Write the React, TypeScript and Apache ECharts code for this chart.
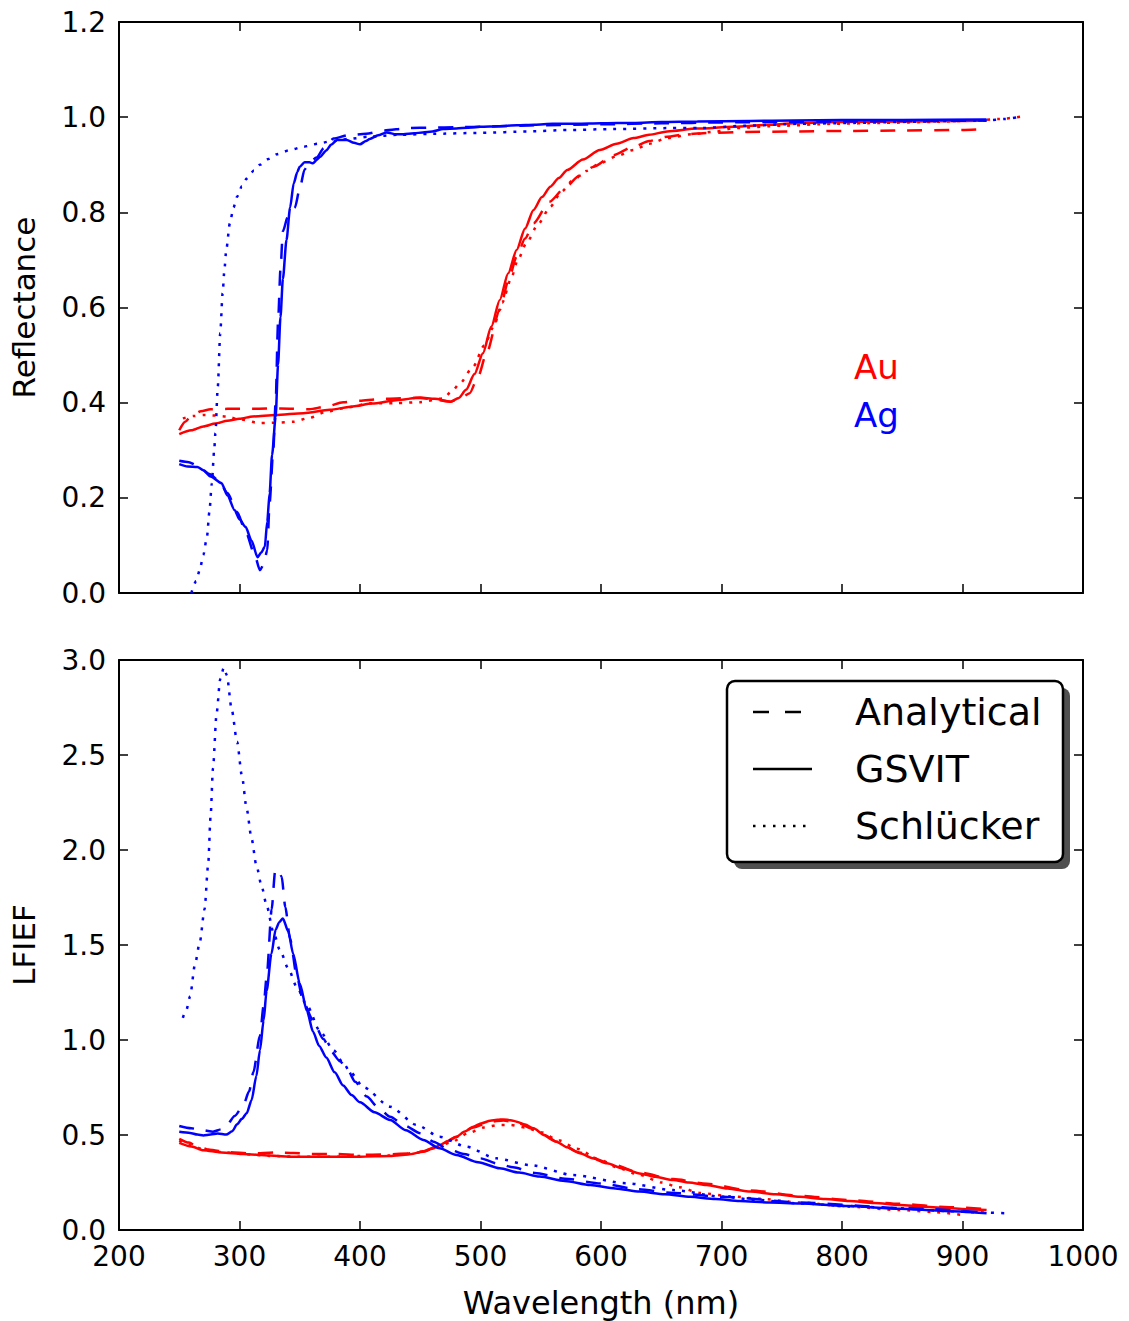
import React, { useEffect, useRef } from "react";
import * as echarts from "echarts";

// ---------- Axis settings ----------
const X_MIN = 200;
const X_MAX = 1000;
const X_INTERVAL = 100;
const R_MIN = 0;
const R_MAX = 1.2;
const R_INTERVAL = 0.2;
const L_MIN = 0;
const L_MAX = 3.0;
const L_INTERVAL = 0.5;

const LEGEND_LABELS = ["Analytical", "GSVIT", "Schlücker"];
const METAL_LABELS = ["Au", "Ag"];

// ---------- Top panel: Reflectance ----------
const auAnalyticalR: number[][] = [
  [250, 0.342], [255, 0.36], [260, 0.372], [268, 0.382], [276, 0.386], [290, 0.387], [311, 0.387],
  [334, 0.388], [358, 0.386], [372, 0.392], [386, 0.401], [400, 0.404], [414, 0.407], [430, 0.409],
  [450, 0.41], [465, 0.405], [475, 0.402], [484, 0.41], [491, 0.42], [498, 0.455], [505, 0.504],
  [516, 0.595], [523, 0.655], [530, 0.707], [537, 0.745], [544, 0.777], [557, 0.822], [571, 0.854],
  [582, 0.877], [594, 0.896], [610, 0.92], [627, 0.938], [640, 0.95], [655, 0.959], [670, 0.964],
  [690, 0.967], [720, 0.969], [760, 0.97], [800, 0.971], [850, 0.972], [900, 0.973], [920, 0.975],
];
const auGsvitR: number[][] = [
  [250, 0.334], [260, 0.342], [270, 0.35], [280, 0.356], [290, 0.362], [300, 0.366], [311, 0.371],
  [330, 0.374], [353, 0.378], [375, 0.385], [394, 0.392], [410, 0.398], [430, 0.405], [450, 0.411],
  [462, 0.408], [475, 0.402], [482, 0.41], [488, 0.427], [495, 0.46], [502, 0.504], [509, 0.56],
  [516, 0.616], [523, 0.672], [530, 0.721], [537, 0.766], [544, 0.805], [551, 0.832], [558, 0.854],
  [565, 0.872], [572, 0.889], [585, 0.911], [599, 0.931], [613, 0.944], [627, 0.956], [640, 0.963],
  [655, 0.97], [680, 0.976], [710, 0.98], [740, 0.984], [765, 0.988], [800, 0.99], [850, 0.991],
  [900, 0.992], [920, 0.993],
];
const auSchluckerR: number[][] = [
  [253, 0.367], [262, 0.372], [270, 0.374], [280, 0.373], [289, 0.371], [300, 0.365], [317, 0.357],
  [330, 0.358], [345, 0.36], [358, 0.368], [372, 0.381], [390, 0.39], [408, 0.399], [430, 0.399],
  [450, 0.401], [469, 0.409], [476, 0.423], [483, 0.441], [494, 0.476], [503, 0.52], [511, 0.56],
  [518, 0.61], [525, 0.658], [531, 0.7], [538, 0.735], [548, 0.776], [558, 0.812], [567, 0.843],
  [577, 0.868], [588, 0.887], [599, 0.903], [613, 0.918], [627, 0.931], [640, 0.944], [655, 0.956],
  [675, 0.964], [696, 0.97], [710, 0.977], [750, 0.982], [792, 0.986], [835, 0.988], [875, 0.99],
  [910, 0.993], [930, 0.996], [948, 1.001],
];
const agAnalyticalR: number[][] = [
  [250, 0.278], [258, 0.275], [265, 0.268], [275, 0.25], [283, 0.236], [290, 0.21], [298, 0.17],
  [305, 0.13], [312, 0.085], [317, 0.048], [320, 0.06], [323, 0.09], [325, 0.19], [328, 0.3],
  [330, 0.4], [332, 0.57], [334, 0.68], [336, 0.76], [340, 0.79], [346, 0.81], [350, 0.85],
  [354, 0.89], [358, 0.905], [364, 0.915], [370, 0.935], [378, 0.955], [390, 0.962], [405, 0.965],
  [420, 0.972], [440, 0.977], [460, 0.978], [480, 0.979], [500, 0.98], [550, 0.983], [600, 0.985],
  [650, 0.987], [700, 0.989], [750, 0.99], [800, 0.991], [850, 0.992], [920, 0.993],
];
const agGsvitR: number[][] = [
  [250, 0.271], [257, 0.266], [265, 0.265], [270, 0.258], [276, 0.245], [285, 0.231], [290, 0.205],
  [296, 0.174], [300, 0.155], [305, 0.139], [310, 0.11], [315, 0.075], [318, 0.085], [321, 0.097],
  [323, 0.15], [325, 0.21], [327, 0.29], [330, 0.37], [332, 0.48], [334, 0.58], [336, 0.66],
  [339, 0.742], [342, 0.81], [345, 0.861], [348, 0.885], [350, 0.896], [354, 0.905], [358, 0.905],
  [361, 0.903], [364, 0.91], [367, 0.917], [372, 0.93], [376, 0.942], [381, 0.952], [389, 0.952],
  [395, 0.946], [400, 0.943], [405, 0.95], [408, 0.954], [415, 0.962], [422, 0.968], [430, 0.964],
  [436, 0.964], [445, 0.966], [452, 0.968], [460, 0.97], [469, 0.975], [480, 0.976], [490, 0.978],
  [500, 0.98], [515, 0.981], [530, 0.983], [545, 0.984], [560, 0.986], [580, 0.986], [600, 0.987],
  [627, 0.988], [650, 0.99], [680, 0.991], [724, 0.992], [760, 0.993], [800, 0.994], [850, 0.994],
  [920, 0.995],
];
const agSchluckerR: number[][] = [
  [260, 0.0], [264, 0.025], [267, 0.048], [270, 0.08], [273, 0.118], [275, 0.17], [277, 0.23],
  [279, 0.3], [280, 0.336], [282, 0.434], [284, 0.546], [286, 0.63], [287.5, 0.68], [289, 0.721],
  [292, 0.777], [295, 0.81], [298, 0.833], [302, 0.855], [306, 0.871], [312, 0.888], [317, 0.9],
  [324, 0.912], [331, 0.922], [342, 0.931], [353, 0.938], [365, 0.944], [375, 0.949], [390, 0.954],
  [408, 0.959], [433, 0.963], [460, 0.965], [500, 0.967], [540, 0.97], [572, 0.973], [610, 0.975],
  [655, 0.977], [682, 0.977], [720, 0.982], [765, 0.986], [810, 0.988], [848, 0.99], [890, 0.992],
  [920, 0.993], [935, 0.996], [948, 1.001],
];

// ---------- Bottom panel: LFIEF ----------
const auAnalyticalL: number[][] = [
  [250, 0.48], [258, 0.46], [265, 0.44], [275, 0.422], [290, 0.41], [310, 0.403], [330, 0.408],
  [345, 0.405], [360, 0.4], [380, 0.4], [400, 0.395], [420, 0.398], [440, 0.402], [452, 0.414],
  [466, 0.445], [480, 0.49], [494, 0.54], [508, 0.57], [519, 0.576], [530, 0.565], [544, 0.532],
  [563, 0.465], [582, 0.408], [605, 0.356], [632, 0.302], [660, 0.268], [688, 0.243], [724, 0.208],
  [765, 0.18], [806, 0.158], [848, 0.138], [889, 0.12], [920, 0.11],
];
const auGsvitL: number[][] = [
  [250, 0.459], [260, 0.44], [270, 0.42], [285, 0.408], [303, 0.4], [325, 0.392], [345, 0.385],
  [370, 0.385], [400, 0.386], [425, 0.389], [440, 0.397], [452.5, 0.412], [460, 0.427],
  [466.4, 0.447], [473, 0.468], [480, 0.491], [487, 0.518], [494, 0.544], [501, 0.562], [508, 0.575],
  [514, 0.58], [519, 0.582], [525, 0.578], [530, 0.57], [537, 0.555], [544, 0.535], [553, 0.5],
  [563, 0.465], [572, 0.435], [582.5, 0.404], [593, 0.378], [605, 0.351], [618, 0.324], [632, 0.298],
  [645, 0.28], [660, 0.263], [673, 0.25], [687.5, 0.237], [705, 0.219], [724, 0.202], [745, 0.188],
  [765, 0.175], [786, 0.163], [806, 0.153], [827, 0.142], [848, 0.132], [869, 0.123], [889, 0.114],
  [905, 0.109], [920, 0.105],
];
const auSchluckerL: number[][] = [
  [250, 0.47], [260, 0.445], [270, 0.425], [285, 0.41], [303, 0.4], [325, 0.39], [350, 0.385],
  [375, 0.385], [400, 0.39], [425, 0.392], [445, 0.405], [460, 0.425], [475, 0.46], [490, 0.51],
  [503, 0.54], [515, 0.553], [525, 0.553], [537, 0.54], [550, 0.515], [565, 0.472], [580, 0.428],
  [599, 0.37], [615, 0.325], [632, 0.29], [650, 0.25], [665, 0.225], [682, 0.195], [707, 0.178],
  [730, 0.165], [765, 0.145], [805, 0.123], [848, 0.105], [875, 0.095], [899, 0.08],
];
const agAnalyticalL: number[][] = [
  [250, 0.547], [260, 0.535], [270, 0.525], [278, 0.517], [285, 0.53], [289, 0.547], [296, 0.6],
  [303, 0.654], [308, 0.73], [311.5, 0.83], [317, 1.025], [320, 1.18], [322.6, 1.337], [326.7, 1.688],
  [329.5, 1.884], [332, 1.9], [335, 1.86], [338, 1.7], [342, 1.532], [347.5, 1.337], [353, 1.2],
  [361, 1.103], [369.6, 1.005], [376, 0.94], [383.4, 0.888], [390, 0.84], [396, 0.78], [405.6, 0.702],
  [415, 0.645], [425, 0.596], [437, 0.55], [450, 0.509], [461, 0.465], [472, 0.43], [486, 0.4],
  [500, 0.377], [514, 0.35], [527, 0.33], [545, 0.3], [570, 0.27], [600, 0.245], [630, 0.215],
  [660, 0.195], [700, 0.175], [765, 0.145], [848, 0.116], [920, 0.092],
];
const agGsvitL: number[][] = [
  [250, 0.517], [259, 0.511], [265, 0.502], [270, 0.498], [276, 0.503], [282, 0.508], [289, 0.502],
  [294, 0.52], [298, 0.556], [302, 0.585], [306, 0.615], [310, 0.683], [314, 0.81], [317, 0.947],
  [320, 1.103], [322.5, 1.259], [326.5, 1.454], [330, 1.581], [333, 1.62], [336, 1.64], [340.5, 1.571],
  [344.5, 1.454], [350, 1.298], [356, 1.152], [361, 1.044], [366, 0.97], [372, 0.908], [379, 0.83],
  [386, 0.761], [393, 0.71], [400, 0.672], [412, 0.62], [425, 0.579], [438, 0.525], [452.5, 0.474],
  [466, 0.43], [480, 0.395], [498, 0.357], [516, 0.325], [532, 0.302], [549, 0.281], [570, 0.258],
  [591, 0.237], [612, 0.219], [632, 0.202], [653, 0.188], [674, 0.175], [695, 0.163], [715, 0.153],
  [740, 0.145], [765, 0.14], [805, 0.126], [848, 0.112], [885, 0.1], [920, 0.088],
];
const agSchluckerL: number[][] = [
  [253, 1.117], [256, 1.16], [259, 1.23], [263, 1.396], [267, 1.513], [271, 1.688], [274, 1.923],
  [276, 2.176], [278, 2.43], [281, 2.72], [284, 2.9], [287, 2.96], [289.5, 2.92], [293.5, 2.74],
  [298, 2.57], [302, 2.39], [306, 2.215], [310, 2.06], [314, 1.92], [318.5, 1.806], [322.5, 1.708],
  [328, 1.571], [333.5, 1.474], [340.5, 1.376], [347.5, 1.279], [356, 1.181], [367, 1.044],
  [378, 0.947], [386, 0.88], [392, 0.83], [403, 0.751], [425, 0.649], [447, 0.553], [466, 0.491],
  [488, 0.439], [513, 0.377], [541, 0.342], [577, 0.289], [621, 0.246], [660, 0.21], [701, 0.175],
  [730, 0.158], [765, 0.14], [805, 0.126], [848, 0.114], [885, 0.1], [920, 0.091], [938, 0.088],
];

const RED = "#ff0000";
const BLUE = "#0000ff";
const FONT = "DejaVu Sans";
const DASH = [15, 12];
const DOT = [3, 7];

function App() {
  const ref = useRef<HTMLDivElement>(null);

  useEffect(() => {
    document.body.style.margin = "0";
    if (!ref.current) return;
    const chart = echarts.init(ref.current, null, { renderer: "svg" });

    const gridL = 119;
    const gridW = 964;

    const tickStyle = { show: true, inside: true, length: 9, lineStyle: { color: "#000", width: 1.5 } };
    const lineStyle = { show: true, lineStyle: { color: "#000", width: 2 } };

    const xAxisDef = (gridIndex: number, position: string, showLabels: boolean, name?: string) => ({
      type: "value",
      gridIndex,
      position,
      min: X_MIN,
      max: X_MAX,
      interval: X_INTERVAL,
      axisLine: { ...lineStyle, onZero: false },
      axisTick: tickStyle,
      splitLine: { show: false },
      axisLabel: {
        show: showLabels,
        margin: 12,
        color: "#000",
        fontFamily: FONT,
        fontSize: 28,
        formatter: (v: number) => String(Math.round(v)),
      },
      name: name || "",
      nameLocation: "middle",
      nameGap: 57,
      nameTextStyle: { color: "#000", fontFamily: FONT, fontSize: 32 },
    });

    const yAxisDef = (
      gridIndex: number,
      position: string,
      min: number,
      max: number,
      interval: number,
      showLabels: boolean,
      name?: string
    ) => ({
      type: "value",
      gridIndex,
      position,
      min,
      max,
      interval,
      axisLine: { ...lineStyle, onZero: false },
      axisTick: tickStyle,
      splitLine: { show: false },
      axisLabel: {
        show: showLabels,
        margin: 13,
        color: "#000",
        fontFamily: FONT,
        fontSize: 28,
        formatter: (v: number) => v.toFixed(1),
      },
      name: name || "",
      nameLocation: "middle",
      nameGap: 80,
      nameTextStyle: { color: "#000", fontFamily: FONT, fontSize: 31 },
    });

    const mk = (
      data: number[][],
      color: string,
      type: any,
      xi: number,
      yi: number,
      name: string
    ) => ({
      type: "line",
      name,
      data,
      xAxisIndex: xi,
      yAxisIndex: yi,
      symbol: "none",
      smooth: 0.25,
      smoothMonotone: "x",
      clip: true,
      lineStyle: { color, width: 2.5, type, cap: "butt" },
      itemStyle: { color },
    });

    const legendX = 727;
    const legendY = 681;
    const legendW = 336;
    const legendH = 181;
    const rowY = [712, 769, 826];
    const handleX1 = 753;
    const handleX2 = 812;
    const dashes = [[16, 16], null, [2.5, 7.5]];

    const legendGraphics: any[] = [
      {
        type: "rect",
        shape: { x: legendX + 7, y: legendY + 7, width: legendW, height: legendH, r: 8 },
        style: { fill: "#505050" },
        z: 10,
      },
      {
        type: "rect",
        shape: { x: legendX, y: legendY, width: legendW, height: legendH, r: 8 },
        style: { fill: "#ffffff", stroke: "#000", lineWidth: 2.5 },
        z: 11,
      },
    ];
    LEGEND_LABELS.forEach((label, i) => {
      legendGraphics.push({
        type: "line",
        shape: { x1: handleX1, y1: rowY[i], x2: handleX2, y2: rowY[i] },
        style: { stroke: "#000", lineWidth: 2.5, lineDash: dashes[i] || undefined, lineCap: "butt" },
        z: 12,
      });
      legendGraphics.push({
        type: "text",
        x: 855,
        y: rowY[i],
        style: {
          text: label,
          fill: "#000",
          font: `38px "${FONT}"`,
          textAlign: "left",
          textVerticalAlign: "middle",
        },
        z: 12,
      });
    });

    const metalGraphics = [
      {
        type: "text",
        x: 854,
        y: 367,
        style: {
          text: METAL_LABELS[0],
          fill: RED,
          font: `34px "${FONT}"`,
          textAlign: "left",
          textVerticalAlign: "middle",
        },
        z: 12,
      },
      {
        type: "text",
        x: 854,
        y: 415,
        style: {
          text: METAL_LABELS[1],
          fill: BLUE,
          font: `34px "${FONT}"`,
          textAlign: "left",
          textVerticalAlign: "middle",
        },
        z: 12,
      },
    ];

    const option: any = {
      animation: false,
      backgroundColor: "#ffffff",
      textStyle: { fontFamily: FONT },
      grid: [
        { left: gridL, top: 22, width: gridW, height: 571 },
        { left: gridL, top: 660, width: gridW, height: 570 },
      ],
      xAxis: [
        xAxisDef(0, "bottom", false),
        xAxisDef(0, "top", false),
        xAxisDef(1, "bottom", true, "Wavelength (nm)"),
        xAxisDef(1, "top", false),
      ],
      yAxis: [
        yAxisDef(0, "left", R_MIN, R_MAX, R_INTERVAL, true, "Reflectance"),
        yAxisDef(0, "right", R_MIN, R_MAX, R_INTERVAL, false),
        yAxisDef(1, "left", L_MIN, L_MAX, L_INTERVAL, true, "LFIEF"),
        yAxisDef(1, "right", L_MIN, L_MAX, L_INTERVAL, false),
      ],
      series: [
        mk(auAnalyticalR, RED, DASH, 0, 0, "Au Analytical"),
        mk(auGsvitR, RED, "solid", 0, 0, "Au GSVIT"),
        mk(auSchluckerR, RED, DOT, 0, 0, "Au Schlücker"),
        mk(agAnalyticalR, BLUE, DASH, 0, 0, "Ag Analytical"),
        mk(agGsvitR, BLUE, "solid", 0, 0, "Ag GSVIT"),
        mk(agSchluckerR, BLUE, DOT, 0, 0, "Ag Schlücker"),
        mk(auAnalyticalL, RED, DASH, 2, 2, "Au Analytical LFIEF"),
        mk(auGsvitL, RED, "solid", 2, 2, "Au GSVIT LFIEF"),
        mk(auSchluckerL, RED, DOT, 2, 2, "Au Schlücker LFIEF"),
        mk(agAnalyticalL, BLUE, DASH, 2, 2, "Ag Analytical LFIEF"),
        mk(agGsvitL, BLUE, "solid", 2, 2, "Ag GSVIT LFIEF"),
        mk(agSchluckerL, BLUE, DOT, 2, 2, "Ag Schlücker LFIEF"),
      ],
      graphic: [...metalGraphics, ...legendGraphics],
    };

    chart.setOption(option);
    return () => {
      chart.dispose();
    };
  }, []);

  return (
    <div
      ref={ref}
      style={{ position: "absolute", left: 0, top: 0, width: 1129, height: 1321, background: "#fff" }}
    />
  );
}

export default App;
